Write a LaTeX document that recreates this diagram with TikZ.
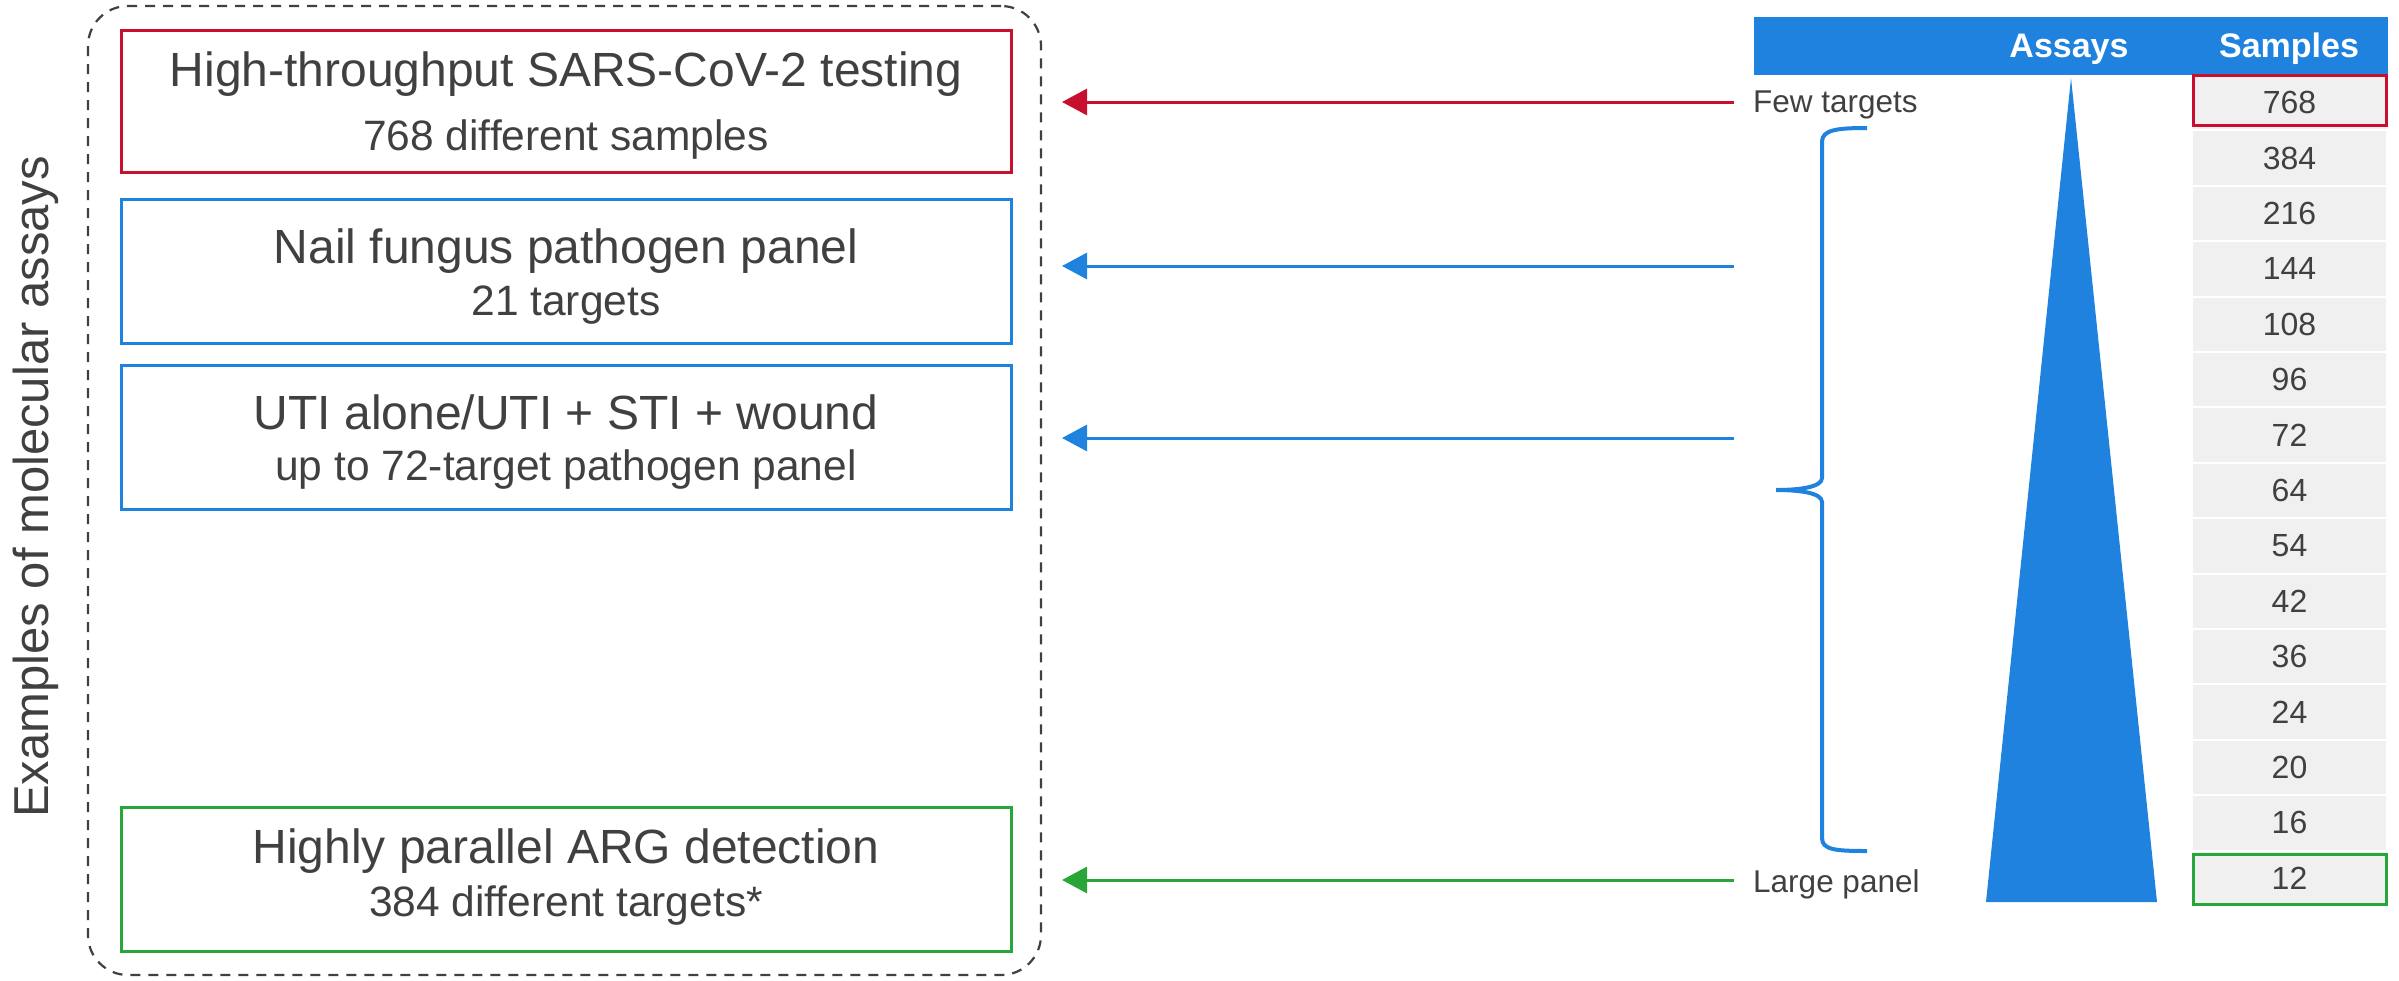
\documentclass[tikz,border=0pt]{standalone}
\usepackage{fontspec}
\setmainfont{Liberation Sans}
\usetikzlibrary{arrows.meta}
\definecolor{cblue}{RGB}{30,130,222}
\definecolor{cred}{RGB}{200,16,46}
\definecolor{cgreen}{RGB}{40,166,58}
\definecolor{ctext}{RGB}{64,64,64}
\definecolor{ccell}{RGB}{240,240,240}
\begin{document}
\begin{tikzpicture}[x=1pt,y=-1pt,
  box/.style={draw, line width=3pt, minimum width=890pt, minimum height=144pt, inner sep=0pt},
  big/.style={text=ctext, font=\fontsize{48}{57}\selectfont, anchor=base, inner sep=0pt},
  small/.style={text=ctext, font=\fontsize{42.5}{51}\selectfont, anchor=base, inner sep=0pt},
  arr/.style={line width=3pt, -{Triangle[length=25pt,width=26pt]}},
  cellnum/.style={text=ctext, font=\fontsize{32}{38}\selectfont, inner sep=0pt},
  lbl/.style={text=ctext, font=\fontsize{31.5}{38}\selectfont, anchor=base west, inner sep=0pt},
  hdr/.style={text=white, font=\bfseries\fontsize{34}{40}\selectfont, anchor=base, inner sep=0pt},
  selbox/.style={draw, line width=3pt, minimum width=193pt, minimum height=50pt, inner sep=0pt},
]
\useasboundingbox (0,0) rectangle (2399,980);

% group box
\node[draw=ctext, line width=2.2pt, dash pattern=on 10pt off 8pt, rounded corners=40pt,
      minimum width=953pt, minimum height=969pt, inner sep=0pt] (group) at (564.5,490.5) {};
\node[text=ctext, font=\fontsize{49}{58}\selectfont, rotate=90, anchor=base, inner sep=0pt]
  (side) at (48,487) {Examples of molecular assays};

% assay boxes
\node[box, draw=cred, minimum height=142pt] (redbox) at (566,101) {};
\node[big] (t1a) at (566,86) {High-throughput SARS-CoV-2 testing};
\node[small] (t1b) at (566,150) {768 different samples};

\node[box, draw=cblue] (bluebox1) at (566,271) {};
\node[big] (t2a) at (566,263) {Nail fungus pathogen panel};
\node[small] (t2b) at (566,315) {21 targets};

\node[box, draw=cblue] (bluebox2) at (566,437) {};
\node[big] (t3a) at (566,429) {UTI alone/UTI + STI + wound};
\node[small] (t3b) at (566,480) {up to 72-target pathogen panel};

\node[box, draw=cgreen] (greenbox) at (566,879) {};
\node[big] (t4a) at (566,863) {Highly parallel ARG detection};
\node[small] (t4b) at (566,916) {384 different targets*};

% table header
\node[fill=cblue, minimum width=634pt, minimum height=58pt, inner sep=0pt] (hdrbar) at (2071,46) {};
\node[hdr] (hassays) at (2069,57) {Assays};
\node[hdr] (hsamples) at (2289,57) {Samples};

% sample cells
\foreach \v [count=\i from 0] in {768,384,216,144,108,96,72,64,54,42,36,24,20,16,12} {
  \pgfmathsetmacro\yc{75+55.4*(\i+0.5)}
  \fill[ccell] (2193,\yc-26.7) rectangle (2386,\yc+26.7);
  \node[cellnum] (c\i) at (2289.5,\yc) {\v};
}
\node[selbox, draw=cred] (sel768) at (2289.5,100) {};
\node[selbox, draw=cgreen] (sel12) at (2289.5,879) {};

% triangle
\fill[cblue] (2071,78) -- (2157,902) -- (1986,902) -- cycle;

% labels
\node[lbl] (few) at (1753,112) {Few targets};
\node[lbl] (large) at (1753,892) {Large panel};

% brace
\draw[cblue, line width=4pt] (1867,128) .. controls (1836,128) and (1822,130) .. (1822,142)
  -- (1822,478) .. controls (1822,487) and (1800,490) .. (1776,490)
  .. controls (1800,490) and (1822,493) .. (1822,502)
  -- (1822,838) .. controls (1822,850) and (1836,851) .. (1867,851);

% arrows
\coordinate (s1) at (1734,102); \coordinate (e1) at (1062,102);
\coordinate (s2) at (1734,266); \coordinate (e2) at (1062,266);
\coordinate (s3) at (1734,438); \coordinate (e3) at (1062,438);
\coordinate (s4) at (1734,880); \coordinate (e4) at (1062,880);
\draw[arr, cred] (s1) -- (e1);
\draw[arr, cblue] (s2) -- (e2);
\draw[arr, cblue] (s3) -- (e3);
\draw[arr, cgreen] (s4) -- (e4);
\end{tikzpicture}
\end{document}
